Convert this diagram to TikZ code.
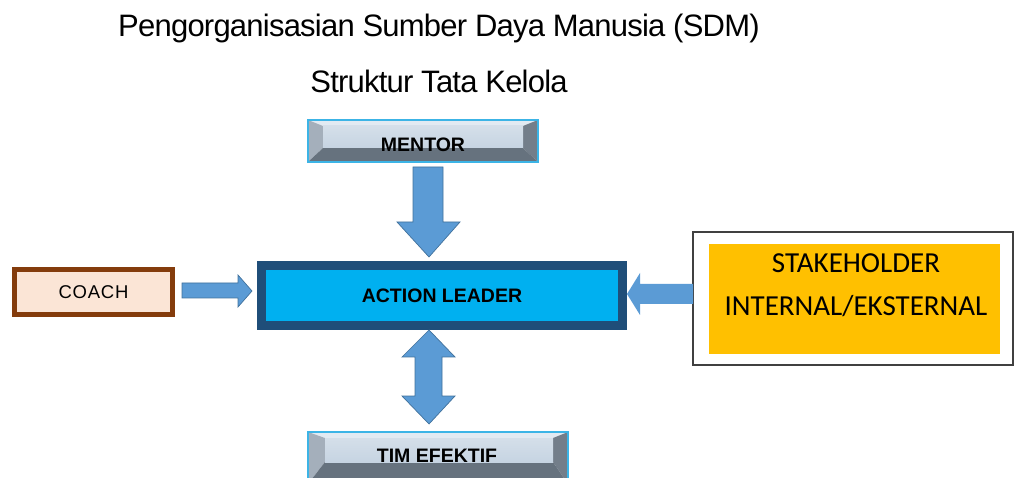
\documentclass[tikz,border=0pt]{standalone}
\usepackage{fontspec}
\setmainfont{Liberation Sans}
\newfontfamily\calibrifont{Carlito}
\newfontfamily\headfont[LetterSpace=-2.5]{Liberation Sans}
\newfontfamily\spacedfont[LetterSpace=4]{Liberation Sans}
\definecolor{arrowblue}{HTML}{5B9BD5}
\definecolor{arrowedge}{HTML}{41719C}
\definecolor{leadernavy}{HTML}{1F4E79}
\definecolor{leadercyan}{HTML}{00B0F0}
\definecolor{coachbrown}{HTML}{843C0C}
\definecolor{coachpink}{HTML}{FBE5D6}
\definecolor{stakegold}{HTML}{FFC000}
\definecolor{bevelface}{HTML}{C6D4E2}
\definecolor{beveltop}{HTML}{E2EAF2}
\definecolor{bevelleft}{HTML}{A4AFBB}
\definecolor{bevelright}{HTML}{737E8A}
\definecolor{bevelbottom}{HTML}{66727E}
\definecolor{bevelrim}{HTML}{3CB4E6}

% bevelled panel: outer corners (#1,#2)-(#3,#4), raised face (#5,#6)-(#7,#8)
\newcommand\bevelpanel[8]{%
  \fill[beveltop] (#1,#2) -- (#3,#2) -- (#7,#6) -- (#5,#6) -- cycle;
  \fill[bevelleft] (#1,#2) -- (#5,#6) -- (#5,#8) -- (#1,#4) -- cycle;
  \fill[bevelright] (#3,#2) -- (#3,#4) -- (#7,#8) -- (#7,#6) -- cycle;
  \fill[bevelbottom] (#1,#4) -- (#5,#8) -- (#7,#8) -- (#3,#4) -- cycle;
  \shade[top color=bevelface!75!white, bottom color=bevelface] (#5,#6) rectangle (#7,#8);
  \draw[bevelrim, line width=1.6pt] (#1,#2) rectangle (#3,#4);
}

\begin{document}
\begin{tikzpicture}[x=1pt, y=-1pt,
  title/.style={inner sep=0pt, anchor=base, font=\headfont\fontsize{31}{36}\selectfont},
  paneltext/.style={inner sep=0pt, font=\fontsize{19.5}{23}\selectfont\bfseries},
  blockarrow/.style={fill=arrowblue, draw=arrowedge, line width=0.7pt, line join=miter},
  leaderbox/.style={draw=leadernavy, fill=leadercyan, line width=9pt,
    minimum width=361pt, minimum height=60pt, inner sep=0pt,
    font=\fontsize{19.5}{23}\selectfont\bfseries},
  coachbox/.style={draw=coachbrown, fill=coachpink, line width=5pt,
    minimum width=158pt, minimum height=45pt, inner sep=0pt,
    font=\spacedfont\fontsize{18.5}{22}\selectfont},
  stakeframe/.style={draw=black!75, fill=white, line width=1.5pt,
    minimum width=320pt, minimum height=133pt, inner sep=0pt},
  stakefill/.style={fill=stakegold, minimum width=291pt, minimum height=110pt, inner sep=0pt},
  staketext/.style={inner sep=0pt, align=center,
    font=\calibrifont\fontsize{29}{43}\selectfont}]
\useasboundingbox (0,0) rectangle (1015,478);
\clip (0,0) rectangle (1015,478);

% headings
\node[title] (head1) at (439,37) {Pengorganisasian Sumber Daya Manusia (SDM)};
\node[title] (head2) at (439,93) {Struktur Tata Kelola};

% bevelled panels
\bevelpanel{308}{120}{538}{162}{323}{126}{523}{148}
\node[paneltext] (mentor) at (423,145) {MENTOR};
\bevelpanel{308}{432}{568}{484}{325}{438}{553}{462}
\node[paneltext] (tim) at (437,456) {TIM EFEKTIF};

% central and side boxes
\node[leaderbox] (leader) at (442,295.5) {ACTION LEADER};
\node[coachbox] (coach) at (93.5,292) {COACH};
\node[stakeframe] (stakeout) at (853,298.5) {};
\node[stakefill] (stakein) at (854.5,299) {};
\node[staketext] (stake) at (856,285.5) {STAKEHOLDER\\INTERNAL/EKSTERNAL};

% block arrows
\draw[blockarrow] (413,167) -- (443,167) -- (443,222) -- (460,222) -- (429,257)
  -- (397,222) -- (413,222) -- cycle;
\draw[blockarrow] (182,283) -- (238,283) -- (238,275) -- (252,291) -- (238,307)
  -- (238,298) -- (182,298) -- cycle;
\fill[arrowblue] (693,284) -- (640,284) -- (640,273) -- (627,294) -- (640,315)
  -- (640,304) -- (693,304) -- cycle;
\draw[blockarrow] (429,330) -- (455,357) -- (442,357) -- (442,396) -- (455,396)
  -- (429,424) -- (402,396) -- (415,396) -- (415,357) -- (402,357) -- cycle;
\end{tikzpicture}
\end{document}
